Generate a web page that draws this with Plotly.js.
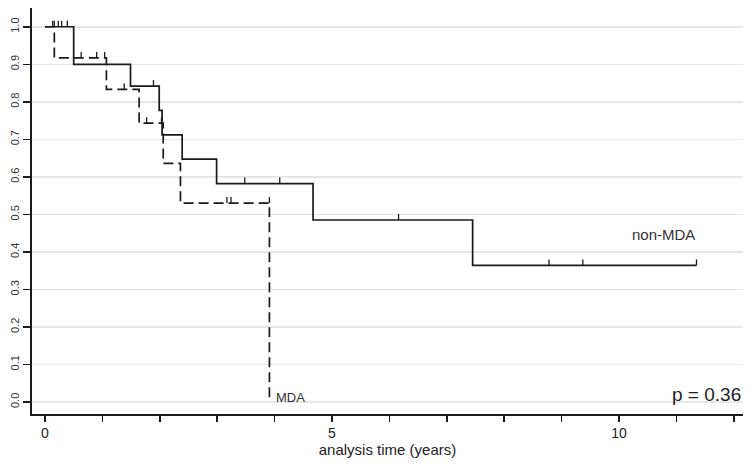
<!DOCTYPE html>
<html>
<head>
<meta charset="utf-8">
<script src="https://cdn.plot.ly/plotly-3.0.1.min.js"></script>
<style>html,body{margin:0;padding:0;background:#fff;}#chart{width:754px;height:469px;}</style>
</head>
<body>
<div id="chart"></div>
<script>
// non-MDA group (solid): event times and survival from that time on
const nonTimes = [0, 0.5, 1.49, 1.99, 2.04, 2.39, 2.99, 4.67, 7.45];
const nonSurv  = [1.0, 0.900, 0.842, 0.777, 0.712, 0.647, 0.582, 0.485, 0.364];
const nonEnd   = 11.35;
const nonCensor = [0.162, 0.232, 0.29, 0.389, 1.89, 3.48, 4.09, 6.16, 8.78, 9.37, 11.35];

// MDA group (dashed)
const mdaTimes = [0, 0.163, 1.07, 1.64, 2.06, 2.36, 3.91];
const mdaSurv  = [1.0, 0.917, 0.833, 0.743, 0.636, 0.530, 0.0];
const mdaCensor = [0.134, 0.63, 0.90, 1.04, 1.38, 1.77, 2.03, 3.17, 3.24, 3.91];

const xTickVals = [0,1,2,3,4,5,6,7,8,9,10,11,12];
const xTickText = ["0","","","","","5","","","","","10","",""];
const yTickVals = [0,0.1,0.2,0.3,0.4,0.5,0.6,0.7,0.8,0.9,1.0];
const yTickText = ["0.0","0.1","0.2","0.3","0.4","0.5","0.6","0.7","0.8","0.9","1.0"];

const groupLabels = ["non-MDA", "MDA"];
const pText = "p = 0.36";

function stepXY(times, surv, end) {
  const x = times.slice(), y = surv.slice();
  if (end !== undefined) { x.push(end); y.push(surv[surv.length-1]); }
  return {x, y};
}
function survAt(times, surv, t) {
  let v = surv[0];
  for (let i = 0; i < times.length; i++) if (times[i] < t) v = surv[i];
  return v;
}
const tickH = 0.016;
function censorXY(times, surv, cens) {
  const x = [], y = [];
  cens.forEach(t => { const s = survAt(times, surv, t); x.push(t, t, null); y.push(s, s + tickH, null); });
  return {x, y};
}

const nonStep = stepXY(nonTimes, nonSurv, nonEnd);
const mdaStep = stepXY(mdaTimes, mdaSurv);
const nonC = censorXY(nonTimes, nonSurv, nonCensor);
const mdaC = censorXY(mdaTimes, mdaSurv, mdaCensor);

const ink = '#1a1a1a';
const traces = [
  {x: mdaStep.x, y: mdaStep.y, mode: 'lines', line: {shape: 'hv', color: ink, width: 1.7, dash: '10px,5px'}, hoverinfo: 'skip'},
  {x: nonStep.x, y: nonStep.y, mode: 'lines', line: {shape: 'hv', color: ink, width: 1.7}, hoverinfo: 'skip'},
  {x: nonC.x, y: nonC.y, mode: 'lines', line: {color: ink, width: 1.3}, connectgaps: false, hoverinfo: 'skip'},
  {x: mdaC.x, y: mdaC.y, mode: 'lines', line: {color: ink, width: 1.3}, connectgaps: false, hoverinfo: 'skip'}
];

const fam = '"Liberation Sans", Arial, sans-serif';
const layout = {
  width: 754, height: 469,
  margin: {l: 32, r: 11, t: 8, b: 55, pad: 0},
  paper_bgcolor: '#fff', plot_bgcolor: '#fff',
  showlegend: false,
  font: {family: fam, color: '#222'},
  xaxis: {
    range: [-0.226, 12.16], tickmode: 'array', tickvals: xTickVals, ticktext: xTickText,
    ticks: 'outside', ticklen: 6, tickwidth: 1.5, tickcolor: ink,
    showline: true, linecolor: ink, linewidth: 1.6,
    showgrid: false, zeroline: false, automargin: false,
    tickfont: {size: 14, family: fam, color: '#222'},
    title: {text: 'analysis time (years)', font: {size: 15, family: fam, color: '#222'}, standoff: 4}
  },
  yaxis: {
    range: [-0.032, 1.05], tickmode: 'array', tickvals: yTickVals, ticktext: yTickText,
    tickangle: -90, ticks: 'outside', ticklen: 7, tickwidth: 1.5, tickcolor: ink,
    showline: true, linecolor: ink, linewidth: 1.6,
    showgrid: true, gridcolor: '#e6e6e6', gridwidth: 1.5, zeroline: false, automargin: false,
    tickfont: {size: 11, family: fam, color: '#333'}
  },
  annotations: [
    {x: 10.19, y: 0.4476, xref: 'x', yref: 'y', text: groupLabels[0], showarrow: false, xanchor: 'left', yanchor: 'middle', font: {size: 15, family: fam, color: '#333'}},
    {x: 3.99, y: 0.013, xref: 'x', yref: 'y', text: groupLabels[1], showarrow: false, xanchor: 'left', yanchor: 'middle', font: {size: 13, family: fam, color: '#333'}},
    {x: 1.0, y: 0.019, xref: 'paper', yref: 'y', text: pText, showarrow: false, xanchor: 'right', yanchor: 'middle', font: {size: 19, family: fam, color: '#222'}}
  ]
};

Plotly.newPlot('chart', traces, layout, {staticPlot: true, displayModeBar: false});
</script>
</body>
</html>
